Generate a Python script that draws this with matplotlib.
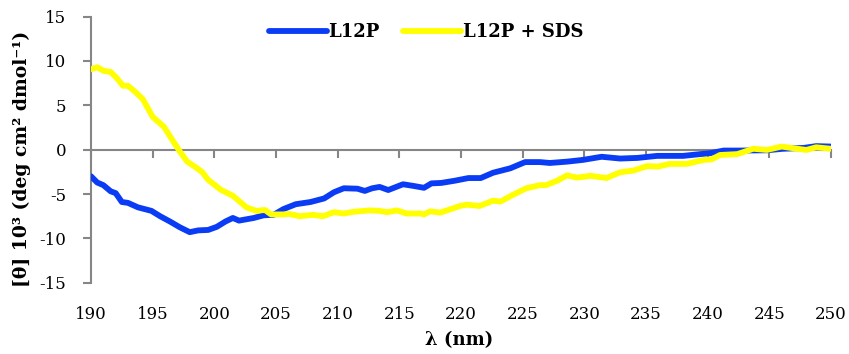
import matplotlib
matplotlib.use("Agg")
import matplotlib.pyplot as plt

# CD spectra, mean residue ellipticity in units of 10^3 deg cm2 dmol-1
wl_l12p = [190, 190.5, 191, 191.6, 192, 192.5, 193, 193.8, 194.9, 195.6, 196.4, 197.2,
           198.0, 198.7, 199.5, 200.2, 200.9, 201.5, 202.0, 203.2, 204.0, 204.8, 205.6,
           206.6, 207.8, 208.9, 209.7, 210.5, 211.6, 212.2, 212.8, 213.4, 214.1, 215.3,
           216.2, 217.0, 217.6, 218.4, 219.5, 220.6, 221.6, 222.6, 224.0, 225.2, 226.4,
           227.2, 228.6, 229.9, 231.4, 232.9, 234.3, 235.9, 238.0, 239.4, 240.2, 241.3,
           242.6, 244.8, 246.1, 247.8, 248.8, 250]
theta_l12p = [-3.0, -3.7, -4.0, -4.7, -4.9, -5.9, -6.0, -6.5, -6.9, -7.5, -8.1, -8.75,
              -9.3, -9.1, -9.05, -8.7, -8.1, -7.7, -8.0, -7.7, -7.4, -7.35, -6.7,
              -6.15, -5.9, -5.5, -4.8, -4.35, -4.4, -4.65, -4.35, -4.2, -4.55, -3.9,
              -4.1, -4.3, -3.8, -3.75, -3.5, -3.2, -3.2, -2.6, -2.1, -1.4, -1.4,
              -1.5, -1.35, -1.15, -0.8, -1.0, -0.93, -0.7, -0.7, -0.5, -0.4, -0.1,
              -0.1, -0.07, 0.1, 0.2, 0.4, 0.35]

wl_sds = [190, 190.5, 191, 191.6, 192.1, 192.6, 193.0, 193.6, 194.2, 195.0, 195.9, 196.5,
          197.2, 197.8, 198.4, 199.0, 199.5, 200.5, 201.5, 202.1, 202.6, 203.4, 204.1,
          204.6, 205.6, 206.1, 206.9, 208.0, 208.8, 209.7, 210.5, 211.3, 212.6, 213.4,
          214.0, 214.8, 215.6, 216.7, 217.0, 217.5, 218.3, 219.4, 219.9, 220.5, 221.5,
          222.6, 223.2, 224.2, 225.3, 226.4, 226.9, 227.8, 228.6, 229.4, 230.5, 231.8,
          232.9, 234.0, 235.1, 236.0, 236.9, 238.3, 239.7, 240.3, 241.0, 242.4, 243.7,
          244.8, 246.0, 247.0, 248.0, 248.8, 250]
theta_sds = [9.06, 9.3, 8.9, 8.75, 8.05, 7.2, 7.2, 6.5, 5.7, 3.7, 2.6, 1.3,
             -0.2, -1.35, -1.9, -2.5, -3.4, -4.5, -5.2, -5.9, -6.5, -6.9, -6.8,
             -7.3, -7.3, -7.25, -7.5, -7.35, -7.5, -7.05, -7.2, -7.0, -6.85, -6.9,
             -7.05, -6.85, -7.2, -7.2, -7.3, -6.95, -7.1, -6.6, -6.35, -6.2, -6.35,
             -5.75, -5.85, -5.1, -4.35, -4.0, -4.0, -3.5, -2.9, -3.15, -2.95, -3.2,
             -2.55, -2.35, -1.85, -1.9, -1.6, -1.6, -1.15, -1.1, -0.6, -0.5, 0.1,
             -0.03, 0.35, 0.15, -0.03, 0.27, 0.1]

x_ticks = list(range(190, 251, 5))
y_ticks = list(range(-15, 16, 5))

plt.rcParams['font.family'] = ['DejaVu Serif']
plt.rcParams['axes.unicode_minus'] = False
axis_grey = '#868686'

fig = plt.figure(figsize=(8.49, 3.54), dpi=100)
ax = fig.add_axes([0.1072, 0.2014, 0.8716, 0.7516])

ax.plot(wl_l12p, theta_l12p, color='#0a3cf5', lw=4.2, solid_capstyle='round',
        label='L12P', zorder=3)
ax.plot(wl_sds, theta_sds, color='#ffff00', lw=4.2, solid_capstyle='round',
        label='L12P + SDS', zorder=3)

ax.set_xlim(190, 250)
ax.set_ylim(-15, 15)
ax.set_yticks(y_ticks)
ax.set_xticks(x_ticks)

for side in ['top', 'right']:
    ax.spines[side].set_visible(False)
for side in ['left', 'bottom']:
    ax.spines[side].set_color(axis_grey)
    ax.spines[side].set_linewidth(1.5)

# horizontal axis crosses at zero, its labels stay at the bottom
ax.spines['bottom'].set_position(('data', 0))
ax.tick_params(axis='x', length=6, width=1.5, color=axis_grey,
               labelbottom=False)
ax.tick_params(axis='y', length=6, width=1.5, color=axis_grey, pad=12,
               labelsize=12)

bottom_labels = ax.secondary_xaxis('bottom')
bottom_labels.set_xticks(x_ticks)
bottom_labels.tick_params(axis='x', length=0, pad=17, labelsize=12)
bottom_labels.spines['bottom'].set_visible(False)

fig.text(0.026, 0.55, '[θ] 10³ (deg cm² dmol⁻¹)', rotation=90, ha='center',
         va='center', fontsize=13.5, fontweight='bold')
fig.text(0.541, 0.04, 'λ (nm)', ha='center', va='center', fontsize=13,
         fontweight='bold')

ax.legend(loc='center', bbox_to_anchor=(0.453, 0.942), ncol=2, frameon=False,
          prop={'weight': 'bold', 'size': 13}, handlelength=3.2,
          handletextpad=0.1, columnspacing=1.3)

fig.savefig('out.png', dpi=100)
